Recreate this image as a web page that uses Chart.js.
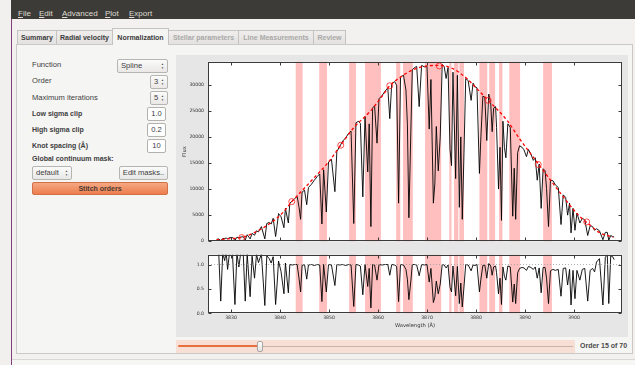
<!DOCTYPE html>
<html>
<head>
<meta charset="UTF-8">
<script src="https://cdn.jsdelivr.net/npm/chart.js@4.4.1/dist/chart.umd.min.js"></script>
<style>
  body { margin: 0; width: 635px; height: 365px; overflow: hidden; background: #f1f0ef; position: relative;
         font-family: "Liberation Sans", Arial, sans-serif; color: #3c3c3c; }
  .a { position: absolute; }
  #win { left: 11px; top: 0; width: 623px; height: 365px; background: #f2f1f0; border-left: 1px solid #82407a; }
  #menubar { left: 11px; top: 0; width: 624px; height: 19px; background: #3c3b37; }
  .menu { top: 9px; font-size: 8px; line-height: 10px; color: #dfdbd2; }
  .tab { top: 30px; height: 13px; line-height: 13px; font-size: 7px; font-weight: bold; text-align: center;
         background: linear-gradient(#efeeed, #e3e2e0); border: 1px solid #c4c3c1; border-bottom: none; box-sizing: border-box; height: 14px; }
  .tab.off { color: #aaa9a7; }
  .tab.on { top: 28px; height: 17px; line-height: 18px; background: #f5f5f4; z-index: 2; }
  #panel { left: 16px; top: 44px; width: 617px; height: 310px; background: #f5f5f4; border: 1px solid #cac9c7; box-sizing: border-box; }
  .lbl { left: 32px; font-size: 7.6px; line-height: 10px; color: #3e3e3e; }
  .lbl.b { font-weight: bold; font-size: 7px; }
  .combo { height: 14px; box-sizing: border-box; border: 1px solid #b7b5b2; border-radius: 2px;
           background: linear-gradient(#fbfbfb, #e9e8e7); font-size: 7.6px; line-height: 12px; padding-left: 3px; }
  .arr { position: absolute; right: 3px; top: 2px; font-size: 3px; line-height: 4px; color: #555; }
  .edit { left: 147px; width: 19px; height: 14px; box-sizing: border-box; border: 1px solid #b3b1ae; border-radius: 2px;
          background: #fff; font-size: 7.6px; line-height: 12px; text-align: center; }
  #plotbg { left: 176px; top: 55px; width: 452px; height: 282px; background: #e6e6e6; }
  canvas { position: absolute; }
</style>
</head>
<body>
<div id="win" class="a"></div>
<div id="menubar" class="a"></div>
<div class="a menu" style="left:18px"><u>F</u>ile</div>
<div class="a menu" style="left:39px"><u>E</u>dit</div>
<div class="a menu" style="left:62px"><u>A</u>dvanced</div>
<div class="a menu" style="left:105px"><u>P</u>lot</div>
<div class="a menu" style="left:129px"><u>E</u>xport</div>

<div id="panel" class="a"></div>
<div class="a tab" style="left:17px;width:40px">Summary</div>
<div class="a tab" style="left:56px;width:57px">Radial velocity</div>
<div class="a tab on" style="left:112px;width:57px">Normalization</div>
<div class="a tab off" style="left:168px;width:71px">Stellar parameters</div>
<div class="a tab off" style="left:238px;width:76px">Line Measurements</div>
<div class="a tab off" style="left:313px;width:33px">Review</div>

<div class="a lbl" style="top:60px">Function</div>
<div class="a lbl" style="top:76px">Order</div>
<div class="a lbl" style="top:93px">Maximum iterations</div>
<div class="a lbl b" style="top:109px">Low sigma clip</div>
<div class="a lbl b" style="top:125px">High sigma clip</div>
<div class="a lbl b" style="top:141px">Knot spacing (Å)</div>
<div class="a lbl b" style="top:154px">Global continuum mask:</div>

<div class="a combo" style="left:117px;top:59px;width:51px">Spline<span class="arr">▲<br>▼</span></div>
<div class="a combo" style="left:150px;top:75px;width:18px">3<span class="arr">▲<br>▼</span></div>
<div class="a combo" style="left:150px;top:91px;width:18px">5<span class="arr">▲<br>▼</span></div>
<div class="a edit" style="top:107px">1.0</div>
<div class="a edit" style="top:123px">0.2</div>
<div class="a edit" style="top:139px">10</div>
<div class="a combo" style="left:32px;top:166px;width:40px">default<span class="arr">▲<br>▼</span></div>
<div class="a combo" style="left:119px;top:166px;width:49px;padding:0;text-align:center">Edit masks..</div>
<div class="a" style="left:32px;top:182px;width:136px;height:13px;box-sizing:border-box;border:1px solid #d36f44;border-radius:2px;
     background:linear-gradient(#f6a883,#ec7d4e);font-size:7px;font-weight:bold;line-height:11px;text-align:center;color:#4b3a32">Stitch orders</div>

<div id="plotbg" class="a"></div>
<canvas id="fluxChart" width="452" height="193" style="left:176px;top:55px"></canvas>
<canvas id="normChart" width="452" height="88" style="left:176px;top:248px"></canvas>

<div class="a" style="left:176px;top:340px;width:399px;height:13px;background:#f7dfd5"></div>
<div class="a" style="left:178px;top:345px;width:82px;height:2px;border-radius:1px;background:#e8703f"></div>
<div class="a" style="left:262px;top:345.5px;width:311px;height:1px;background:#c9b3a7"></div>
<div class="a" style="left:257px;top:341px;width:6px;height:11px;box-sizing:border-box;border:1px solid #a9a7a5;border-radius:2px;background:linear-gradient(#fdfdfd,#e4e3e2)"></div>
<div class="a" style="left:580px;top:341px;font-size:7px;font-weight:bold;line-height:10px;color:#4a4a4a">Order 15 of 70</div>
<div class="a" style="left:12px;top:359px;width:623px;height:6px;background:#f6f6f5;border-top:1px solid #d9d8d6"></div>

<script>
// spectrum (wavelength in Å)
var wavelength = [3827.1, 3827.5, 3827.9, 3828.3, 3828.7, 3829.0, 3829.3, 3829.7, 3830.3, 3830.8, 3831.2, 3831.6, 3832.0, 3832.5, 3832.9,
  3833.3, 3833.9, 3834.3, 3834.8, 3835.2, 3835.6, 3836.2, 3836.9, 3837.3, 3837.8, 3838.2, 3838.6, 3839.1, 3839.4, 3839.7,
  3840.2, 3840.8, 3841.1, 3841.7, 3842.0, 3842.5, 3843.0, 3843.5, 3843.9, 3844.2, 3844.5, 3845.0, 3845.45, 3845.8, 3846.4,
  3847.0, 3847.6, 3848.1, 3848.55, 3848.9, 3849.45, 3849.9, 3850.5, 3851.2, 3851.6, 3852.2, 3852.8, 3853.4, 3854.0, 3854.5,
  3855.05, 3855.5, 3856.0, 3856.4, 3856.9, 3857.35, 3857.9, 3858.2, 3858.55, 3858.9, 3859.3, 3859.8, 3860.2, 3860.8, 3861.4,
  3862.0, 3862.4, 3862.8, 3863.4, 3863.8, 3864.2, 3864.6, 3865.2, 3865.7, 3866.0, 3866.3, 3866.7, 3867.0, 3867.5, 3867.9,
  3868.4, 3868.9, 3869.5, 3870.0, 3870.45, 3870.8, 3871.3, 3871.6, 3871.9, 3872.3, 3872.7, 3873.1, 3873.5, 3873.9, 3874.3,
  3874.7, 3875.0, 3875.3, 3875.85, 3876.2, 3876.6, 3876.9, 3877.2, 3877.5, 3877.9, 3878.4, 3879.0, 3879.4, 3879.8, 3880.2,
  3880.7, 3881.0, 3881.4, 3881.8, 3882.2, 3882.6, 3883.0, 3883.3, 3883.6, 3884.0, 3884.2, 3884.6, 3884.9, 3885.2, 3885.5,
  3885.8, 3886.1, 3886.5, 3887.0, 3887.5, 3887.8, 3888.1, 3888.5, 3888.9, 3889.4, 3889.8, 3890.3, 3890.7, 3891.2, 3891.7,
  3892.1, 3892.5, 3892.9, 3893.3, 3893.7, 3894.1, 3894.4, 3894.8, 3895.2, 3895.7, 3896.2, 3896.8, 3897.35, 3897.8, 3898.3,
  3898.7, 3899.1, 3899.4, 3899.8, 3900.2, 3900.6, 3901.2, 3901.7, 3902.2, 3902.8, 3903.3, 3903.8, 3904.2, 3904.6, 3905.2,
  3905.9, 3906.4, 3906.8, 3907.1, 3907.5, 3907.9, 3908.2];
var flux = [380, 430, 130, 500, 540, 610, 470, 680, 740, 150, 780, 640, 820, 860, 250,
  1250, 450, 1500, 1150, 2000, 1800, 2800, 450, 3400, 3600, 3300, 4400, 900, 3000, 5300,
  4700, 2600, 6300, 3500, 7300, 7700, 8200, 8600, 6400, 4200, 9400, 9800, 7000, 10300, 10900,
  11700, 12400, 12900, 3300, 13700, 5600, 15200, 15700, 9500, 17200, 18200, 19200, 19800, 20700, 21100,
  3400, 22700, 23000, 22600, 8500, 23900, 13300, 22500, 2800, 25600, 25900, 18800, 27300, 27900, 28700,
  29400, 23500, 30200, 30600, 29900, 7300, 31500, 31800, 29000, 22500, 4500, 21000, 32900, 33300, 33500,
  25800, 33700, 33400, 33500, 21500, 31000, 7300, 11000, 22000, 13500, 20000, 33900, 33500, 31200, 33300,
  17600, 14500, 32400, 12000, 31800, 6500, 20000, 4200, 15000, 31200, 30800, 27000, 30300, 29600, 29400,
  13000, 20000, 27800, 27600, 19300, 28200, 26500, 21000, 25500, 25800, 21800, 10000, 18000, 4000, 23000,
  18000, 16000, 22500, 21800, 4800, 14000, 4200, 17000, 18300, 18000, 17500, 16200, 17600, 16700, 15500,
  16000, 11700, 14800, 6300, 13900, 13500, 10100, 2800, 11700, 11600, 10800, 10300, 3200, 8900, 8400,
  5000, 7300, 1600, 6300, 2100, 5400, 3500, 4400, 4100, 1100, 3000, 2800, 2100, 2400, 2000,
  300, 1700, 1700, 200, 1100, 900, 800];
var normFlux = [1.25, 1.22, 0.25, 1.24, 1.08, 1.26, 0.90, 1.25, 1.21, 0.18, 1.23, 0.95, 1.26, 1.20, 0.25,
  1.22, 0.34, 1.17, 0.72, 1.21, 1.04, 1.22, 0.16, 1.18, 1.12, 1.03, 1.16, 0.18, 0.60, 1.07,
  0.86, 0.40, 1.03, 0.42, 1.00, 0.99, 1.00, 1.00, 0.70, 0.44, 0.98, 1.00, 0.70, 0.99, 1.00,
  0.98, 1.00, 0.99, 0.24, 1.00, 0.44, 1.00, 0.99, 0.57, 1.00, 0.99, 1.00, 0.98, 1.00, 0.99,
  0.14, 1.00, 0.99, 0.97, 0.38, 1.00, 0.55, 0.92, 0.11, 1.00, 0.99, 0.68, 1.00, 0.99, 1.00,
  1.00, 0.78, 1.00, 0.99, 0.96, 0.24, 1.00, 0.99, 0.90, 0.70, 0.28, 0.66, 1.00, 1.00, 0.99,
  0.77, 1.00, 0.99, 1.00, 0.64, 0.92, 0.22, 0.33, 0.66, 0.40, 0.60, 1.00, 0.99, 0.93, 0.99,
  0.53, 0.44, 0.97, 0.36, 0.96, 0.20, 0.62, 0.13, 0.48, 1.00, 0.99, 0.87, 0.99, 0.98, 1.00,
  0.44, 0.70, 0.98, 0.99, 0.72, 1.02, 0.97, 0.78, 0.95, 0.97, 0.83, 0.40, 0.72, 0.18, 0.95,
  0.76, 0.68, 0.97, 0.95, 0.23, 0.60, 0.20, 0.83, 0.92, 0.94, 0.93, 0.88, 0.96, 0.94, 0.90,
  0.95, 0.72, 0.93, 0.42, 0.94, 0.94, 0.72, 0.20, 0.87, 0.90, 0.88, 0.90, 0.35, 0.92, 0.93,
  0.58, 0.90, 0.17, 0.88, 0.30, 0.88, 0.68, 0.90, 0.92, 0.25, 0.88, 0.92, 0.85, 1.05, 1.12,
  0.17, 1.15, 1.20, 0.20, 1.18, 1.16, 1.10];

// fitted continuum (red dashed) and its knots
var contWave = [3827, 3830, 3832.2, 3834.6, 3837.3, 3840.7, 3842.4, 3844.5, 3847, 3850, 3852.4, 3855, 3858.4, 3861, 3862.4,
  3864.5, 3867, 3870, 3872.5, 3875, 3878, 3880, 3882.5, 3886.3, 3889, 3893, 3897, 3901, 3903, 3905.3, 3908];
var contFlux = [250, 500, 700, 1600, 3000, 5600, 7600, 9700, 12200, 15300, 18400, 21700, 24900, 28000, 29800,
  31400, 32800, 33600, 33700, 33200, 31300, 29400, 27000, 23200, 19500, 14500, 9500, 4900, 3300, 1600, 800];
var knotWave = [3832.2, 3842.4, 3852.4, 3862.4, 3872.5, 3882.5, 3892.7, 3902.6];
var knotFlux = [700, 7600, 18400, 29800, 33600, 27000, 14700, 3700];

// masked regions (pink)
var maskStart = [3843.2, 3848.0, 3854.1, 3857.35, 3863.7, 3865.1, 3869.6, 3874.55, 3875.5, 3876.6, 3880.7, 3882.7, 3884.7, 3886.8, 3893.7];
var maskEnd   = [3844.6, 3849.6, 3855.5, 3860.6, 3864.55, 3867.1, 3872.9, 3875.0, 3876.4, 3877.55, 3882.3, 3883.9, 3885.4, 3889.0, 3895.5];

var xTicks = [3830, 3840, 3850, 3860, 3870, 3880, 3890, 3900];
var fluxTicks = [0, 5000, 10000, 15000, 20000, 25000, 30000];
var normTicks = [0, 0.5, 1.0];

var xMin = 3825.3, xMax = 3909.8;

function pts(xs, ys) {
  return xs.map(function (v, i) { return {x: v, y: ys[i]}; });
}

var tickFont = {family: 'DejaVu Sans', size: 4.6};
var titleFont = {family: 'DejaVu Sans', size: 5.2};

// white axes background, pink masks
var maskPlugin = {
  id: 'masks',
  beforeDatasetsDraw: function (chart) {
    var ctx = chart.ctx, a = chart.chartArea, x = chart.scales.x;
    ctx.save();
    ctx.fillStyle = '#ffffff';
    ctx.fillRect(a.left, a.top, a.right - a.left, a.bottom - a.top);
    ctx.fillStyle = 'rgba(255, 0, 0, 0.25)';
    for (var i = 0; i < maskStart.length; i++) {
      var x0 = x.getPixelForValue(maskStart[i]), x1 = x.getPixelForValue(maskEnd[i]);
      ctx.fillRect(x0, a.top, x1 - x0, a.bottom - a.top);
    }
    ctx.restore();
  }
};

// matplotlib style box with inward ticks on all sides
var framePlugin = {
  id: 'frame',
  afterDatasetsDraw: function (chart) {
    var ctx = chart.ctx, a = chart.chartArea, x = chart.scales.x, y = chart.scales.y;
    var L = Math.round(a.left) + 0.5, R = Math.round(a.right) - 0.5, T = Math.round(a.top) + 0.5, B = Math.round(a.bottom) - 0.5;
    ctx.save();
    ctx.strokeStyle = '#3a3a3a';
    ctx.lineWidth = 1;
    ctx.strokeRect(L, T, R - L, B - T);
    ctx.beginPath();
    xTicks.forEach(function (v) {
      var px = Math.round(x.getPixelForValue(v)) + 0.5;
      ctx.moveTo(px, T); ctx.lineTo(px, T + 3);
      ctx.moveTo(px, B); ctx.lineTo(px, B - 3);
    });
    y.ticks.forEach(function (t) {
      var py = Math.round(y.getPixelForValue(t.value)) + 0.5;
      ctx.moveTo(L, py); ctx.lineTo(L + 3, py);
      ctx.moveTo(R, py); ctx.lineTo(R - 3, py);
    });
    ctx.stroke();
    ctx.restore();
  }
};

new Chart(document.getElementById('fluxChart'), {
  type: 'line',
  data: {
    datasets: [{
      data: pts(wavelength, flux),
      borderColor: '#000000',
      borderWidth: 0.9,
      pointRadius: 0,
      tension: 0,
      order: 2
    }, {
      data: pts(contWave, contFlux),
      borderColor: '#ff0000',
      borderWidth: 1.3,
      borderDash: [3, 2.5],
      pointRadius: 0,
      cubicInterpolationMode: 'monotone',
      order: 1
    }, {
      type: 'scatter',
      data: pts(knotWave, knotFlux),
      borderColor: '#ff2020',
      borderWidth: 0.8,
      backgroundColor: 'rgba(0,0,0,0)',
      pointRadius: 3,
      order: 0
    }]
  },
  options: {
    responsive: false,
    animation: false,
    events: [],
    layout: {padding: {left: 0, right: 6, top: 6, bottom: 4.7}},
    plugins: {legend: {display: false}, tooltip: {enabled: false}},
    scales: {
      x: {
        type: 'linear', min: xMin, max: xMax, display: false,
        afterBuildTicks: function (s) { s.ticks = xTicks.map(function (v) { return {value: v}; }); }
      },
      y: {
        min: 0, max: 34400,
        afterBuildTicks: function (s) { s.ticks = fluxTicks.map(function (v) { return {value: v}; }); },
        afterFit: function (s) { s.width = 32; },
        grid: {display: false, drawTicks: false},
        border: {display: false},
        ticks: {font: tickFont, color: '#333333', padding: 4, callback: function (v) { return String(v); }},
        title: {display: true, text: 'Flux', font: titleFont, color: '#333333', padding: {top: 6, bottom: 0}}
      }
    }
  },
  plugins: [maskPlugin, framePlugin]
});

new Chart(document.getElementById('normChart'), {
  type: 'line',
  data: {
    datasets: [{
      data: pts(wavelength, normFlux),
      borderColor: '#000000',
      borderWidth: 0.9,
      pointRadius: 0,
      tension: 0,
      order: 2
    }, {
      data: pts([xMin, xMax], [1.0, 1.0]),
      borderColor: '#9a9a9a',
      borderWidth: 0.8,
      borderDash: [1, 2],
      pointRadius: 0,
      order: 1
    }]
  },
  options: {
    responsive: false,
    animation: false,
    events: [],
    layout: {padding: {left: 0, right: 6, top: 5.3, bottom: 0}},
    plugins: {legend: {display: false}, tooltip: {enabled: false}},
    scales: {
      x: {
        type: 'linear', min: xMin, max: xMax,
        afterBuildTicks: function (s) { s.ticks = xTicks.map(function (v) { return {value: v}; }); },
        afterFit: function (s) { s.height = 22.7; },
        grid: {display: false, drawTicks: false},
        border: {display: false},
        ticks: {font: tickFont, color: '#333333', padding: 2, maxRotation: 0, autoSkip: false,
                callback: function (v) { return String(v); }},
        title: {display: true, text: 'Wavelength (Å)', font: titleFont, color: '#333333', padding: {top: 0, bottom: 7}}
      },
      y: {
        min: 0, max: 1.2,
        afterBuildTicks: function (s) { s.ticks = normTicks.map(function (v) { return {value: v}; }); },
        afterFit: function (s) { s.width = 32; },
        grid: {display: false, drawTicks: false},
        border: {display: false},
        ticks: {font: tickFont, color: '#333333', padding: 4, callback: function (v) { return v.toFixed(1); }}
      }
    }
  },
  plugins: [maskPlugin, framePlugin]
});
</script>
</body>
</html>
